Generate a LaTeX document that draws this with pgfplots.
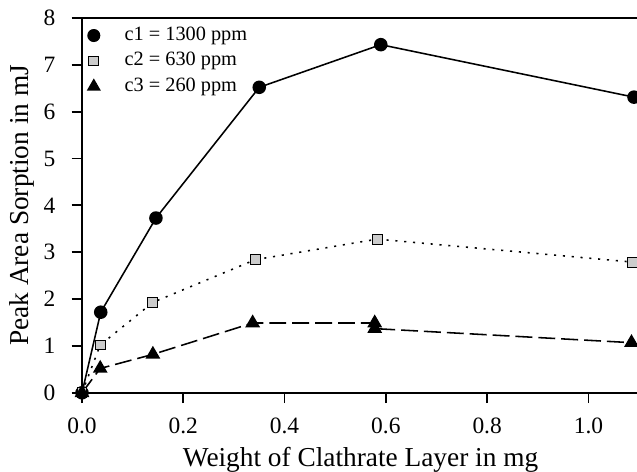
\documentclass[border=0pt]{standalone}
\usepackage{fontspec}
\setmainfont{Liberation Serif}
\usepackage{pgfplots}
\pgfplotsset{compat=1.18}
\begin{document}
\begin{tikzpicture}
\begin{axis}[
  scale only axis, width=214pt, height=144pt,
  xmin=0, xmax=1.1, ymin=0, ymax=8,
  axis x line*=box, axis y line*=left,
  axis line style={line width=0.7pt},
  xtick={0,0.2,0.4,0.6,0.8,1.0}, ytick={0,1,...,8},
  xtick pos=left, ytick pos=left,
  tick align=outside, major tick length=4pt,
  tick style={line width=0.7pt, black},
  /pgf/number format/assume math mode=true,
  xticklabel style={/pgf/number format/.cd, fixed, fixed zerofill, precision=1, /tikz/.cd, yshift=-2.2pt},
  yticklabel style={xshift=-2.7pt},
  ticklabel style={font=\fontsize{9}{11}\selectfont},
  xlabel={Weight of Clathrate Layer in mg},
  ylabel={Peak Area Sorption in mJ},
  label style={font=\fontsize{10.5}{12}\selectfont},
  xlabel style={at={(axis description cs:0.5,-0.179)}, anchor=center},
  ylabel style={at={(axis description cs:-0.1075,0.5)}, anchor=center},
  legend style={draw=none, fill=none, at={(0,1)}, anchor=north west,
    font=\fontsize{7.8}{9}\selectfont, row sep=-0.9pt, inner sep=2pt, yshift=0.8pt,
    /tikz/every odd column/.append style={column sep=7.5pt}},
  legend cell align=left,
  clip=false,
]
\addlegendimage{only marks, mark=*, mark size=2.3pt, black}
\addlegendentry{c1 = 1300 ppm}
\addlegendimage{only marks, mark=square*, mark size=1.9pt, mark options={fill=gray!40, draw=black}}
\addlegendentry{c2 = 630 ppm}
\addlegendimage{only marks, mark=triangle*, mark size=2.7pt, black}
\addlegendentry{c3 = 260 ppm}

\addplot[forget plot, black, line width=0.6pt, mark=*, mark size=2.3pt] coordinates {
(0,0) (0.037,1.72) (0.146,3.73) (0.350,6.52) (0.590,7.43) (1.090,6.31)};
\addplot[forget plot, black, line width=0.6pt, dash pattern=on 0.8pt off 2.6pt, mark=square*, mark size=1.9pt, mark options={solid, fill=gray!40, draw=black, line width=0.4pt}] coordinates {
(0,0) (0.036,1.02) (0.140,1.93) (0.342,2.84) (0.583,3.28) (1.087,2.79)};
\addplot[forget plot, black, line width=0.6pt, dash pattern=on 6.5pt off 2.3pt, mark=triangle*, mark size=2.7pt, mark options={solid}] coordinates {
(0,0) (0.036,0.52) (0.140,0.82) (0.337,1.49) (0.578,1.49) (0.578,1.37) (1.085,1.07)};

\coordinate (bl) at (rel axis cs:0,0);
\coordinate (tr) at (rel axis cs:1,1);
\end{axis}
\pgfresetboundingbox
\path[use as bounding box] ([shift={(-31.5pt,-30.4pt)}]bl) rectangle ([shift={(-0.8pt,6.9pt)}]tr);
\end{tikzpicture}
\end{document}
